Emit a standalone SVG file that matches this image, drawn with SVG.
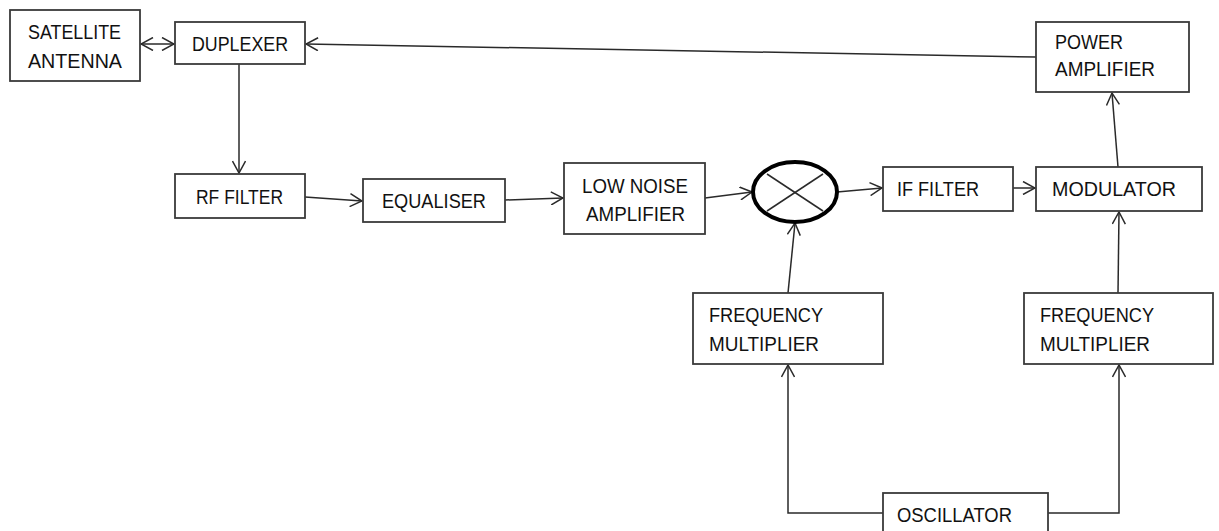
<svg xmlns="http://www.w3.org/2000/svg" width="1219" height="531" viewBox="0 0 1219 531">
<defs>
<style>
.box{fill:#fff;stroke:#3a3a3a;stroke-width:1.8}
.lbl{font-family:"Liberation Sans",Arial,sans-serif;font-size:20.5px;fill:#111}
.con{fill:none;stroke:#2a2a2a;stroke-width:1.5}
</style>
<marker id="ah" viewBox="0 0 14 14" refX="13" refY="7" markerWidth="14" markerHeight="14" markerUnits="userSpaceOnUse" orient="auto-start-reverse">
<path d="M1,0.5 L13,7 L1,13.5" fill="none" stroke="#2a2a2a" stroke-width="1.5"/>
</marker>
</defs>
<rect width="1219" height="531" fill="#fff"/>
<g id="connectors">
<line class="con" x1="141" y1="44" x2="174" y2="44" marker-start="url(#ah)" marker-end="url(#ah)"/>
<line class="con" x1="1036" y1="57" x2="306" y2="44" marker-end="url(#ah)"/>
<line class="con" x1="239" y1="64" x2="239" y2="173" marker-end="url(#ah)"/>
<line class="con" x1="305" y1="197" x2="362" y2="201" marker-end="url(#ah)"/>
<line class="con" x1="505" y1="200" x2="563" y2="198" marker-end="url(#ah)"/>
<line class="con" x1="705" y1="198" x2="752" y2="192" marker-end="url(#ah)"/>
<line class="con" x1="837" y1="192" x2="882" y2="188" marker-end="url(#ah)"/>
<line class="con" x1="1013" y1="188" x2="1035" y2="188" marker-end="url(#ah)"/>
<line class="con" x1="1118" y1="167" x2="1112" y2="93" marker-end="url(#ah)"/>
<line class="con" x1="788" y1="293" x2="795" y2="223" marker-end="url(#ah)"/>
<line class="con" x1="1118" y1="293" x2="1119" y2="212" marker-end="url(#ah)"/>
<polyline class="con" points="883,513 788,513 788,365" marker-end="url(#ah)"/>
<polyline class="con" points="1048,513 1119,513 1119,365" marker-end="url(#ah)"/>
</g>
<g id="satellite-antenna">
<rect class="box" x="10" y="10" width="130" height="71"/>
<text class="lbl" x="28" y="39" textLength="93" lengthAdjust="spacingAndGlyphs">SATELLITE</text>
<text class="lbl" x="28" y="68" textLength="94" lengthAdjust="spacingAndGlyphs">ANTENNA</text>
</g>
<g id="duplexer">
<rect class="box" x="175" y="22" width="130" height="42"/>
<text class="lbl" x="192" y="51" textLength="96" lengthAdjust="spacingAndGlyphs">DUPLEXER</text>
</g>
<g id="power-amplifier">
<rect class="box" x="1036" y="22" width="153" height="70"/>
<text class="lbl" x="1055" y="49" textLength="68" lengthAdjust="spacingAndGlyphs">POWER</text>
<text class="lbl" x="1055" y="76" textLength="100" lengthAdjust="spacingAndGlyphs">AMPLIFIER</text>
</g>
<g id="rf-filter">
<rect class="box" x="175" y="174" width="130" height="44"/>
<text class="lbl" x="196" y="204" textLength="87" lengthAdjust="spacingAndGlyphs">RF FILTER</text>
</g>
<g id="equaliser">
<rect class="box" x="363" y="179" width="142" height="43"/>
<text class="lbl" x="382" y="208" textLength="104" lengthAdjust="spacingAndGlyphs">EQUALISER</text>
</g>
<g id="low-noise-amplifier">
<rect class="box" x="564" y="163" width="141" height="71"/>
<text class="lbl" x="582" y="193" textLength="106" lengthAdjust="spacingAndGlyphs">LOW NOISE</text>
<text class="lbl" x="586" y="221" textLength="99" lengthAdjust="spacingAndGlyphs">AMPLIFIER</text>
</g>
<g id="mixer">
<ellipse cx="795" cy="192" rx="42" ry="30" fill="#fff" stroke="#000" stroke-width="4"/>
<line x1="767" y1="174" x2="823" y2="211" stroke="#2a2a2a" stroke-width="1.5"/>
<line x1="767" y1="211" x2="823" y2="174" stroke="#2a2a2a" stroke-width="1.5"/>
</g>
<g id="if-filter">
<rect class="box" x="883" y="167" width="130" height="44"/>
<text class="lbl" x="897" y="196" textLength="82" lengthAdjust="spacingAndGlyphs">IF FILTER</text>
</g>
<g id="modulator">
<rect class="box" x="1036" y="167" width="166" height="44"/>
<text class="lbl" x="1052" y="196" textLength="124" lengthAdjust="spacingAndGlyphs">MODULATOR</text>
</g>
<g id="frequency-multiplier-1">
<rect class="box" x="693" y="293" width="190" height="71"/>
<text class="lbl" x="709" y="322" textLength="114" lengthAdjust="spacingAndGlyphs">FREQUENCY</text>
<text class="lbl" x="709" y="351" textLength="110" lengthAdjust="spacingAndGlyphs">MULTIPLIER</text>
</g>
<g id="frequency-multiplier-2">
<rect class="box" x="1024" y="293" width="189" height="71"/>
<text class="lbl" x="1040" y="322" textLength="114" lengthAdjust="spacingAndGlyphs">FREQUENCY</text>
<text class="lbl" x="1040" y="351" textLength="110" lengthAdjust="spacingAndGlyphs">MULTIPLIER</text>
</g>
<g id="oscillator">
<rect class="box" x="883" y="493" width="165" height="45"/>
<text class="lbl" x="897" y="522" textLength="115" lengthAdjust="spacingAndGlyphs">OSCILLATOR</text>
</g>
</svg>
